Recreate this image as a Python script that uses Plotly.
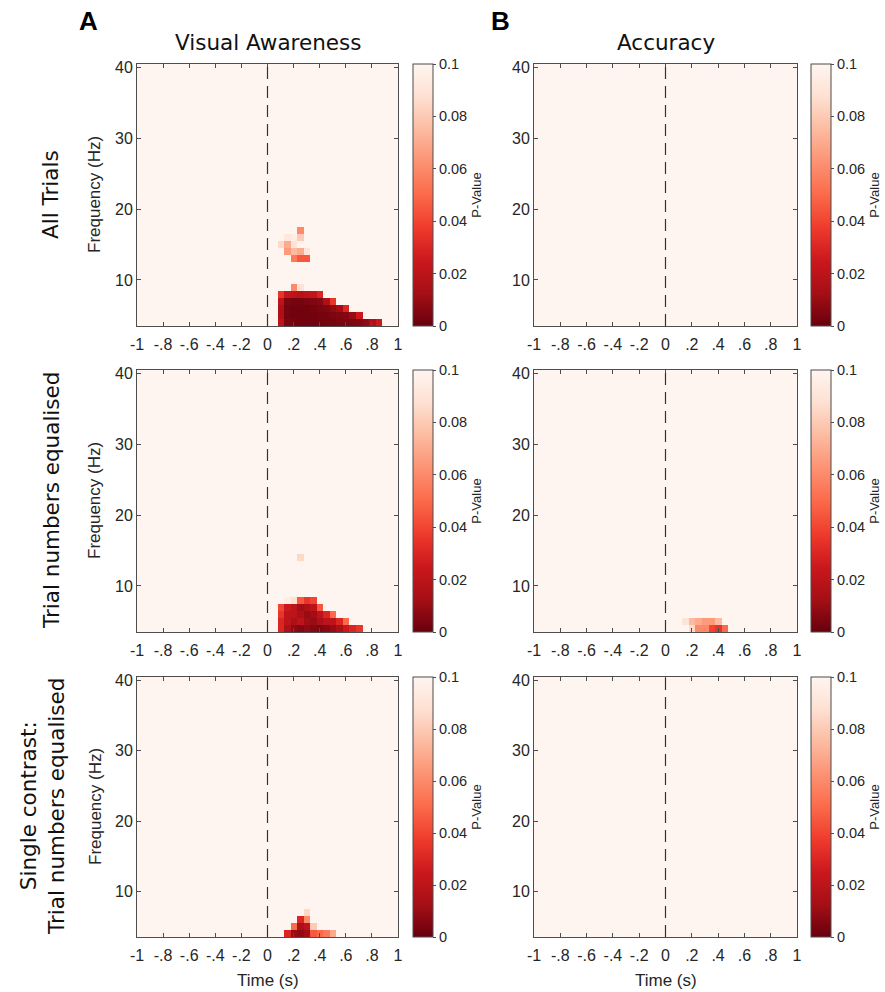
import plotly.graph_objects as go

# ---------------- data ----------------
times = [round(-1 + 0.05 * i, 2) for i in range(41)]   # time bin centres (s)
freqs = list(range(4, 41))                             # frequency bins (Hz)
BG = 0.1                                               # non-significant p (clipped)

x_tickvals = [-1, -0.8, -0.6, -0.4, -0.2, 0, 0.2, 0.4, 0.6, 0.8, 1]
x_ticktext = ["-1", "-.8", "-.6", "-.4", "-.2", "0", ".2", ".4", ".6", ".8", "1"]
y_tickvals = [10, 20, 30, 40]
cb_tickvals = [0, 0.02, 0.04, 0.06, 0.08, 0.1]
cb_ticktext = ["0", "0.02", "0.04", "0.06", "0.08", "0.1"]

col_titles = ["Visual Awareness", "Accuracy"]
row_titles = ["All Trials", "Trial numbers equalised",
              "Single contrast:<br>Trial numbers equalised"]

# significant cells: (frequency, first time bin, p-values along time)
va_all = [
    (4, 0.10, [0.02, 0.004, 0.003, 0.002, 0.002, 0.002, 0.002, 0.003, 0.003, 0.004, 0.004, 0.005, 0.006, 0.008, 0.015, 0.025]),
    (5, 0.10, [0.015, 0.003, 0.002, 0.002, 0.002, 0.002, 0.003, 0.003, 0.004, 0.005, 0.006, 0.01, 0.025]),
    (6, 0.10, [0.015, 0.003, 0.002, 0.002, 0.002, 0.003, 0.004, 0.005, 0.008, 0.012, 0.03]),
    (7, 0.10, [0.02, 0.004, 0.003, 0.003, 0.004, 0.005, 0.006, 0.015, 0.035]),
    (8, 0.10, [0.035, 0.022, 0.02, 0.018, 0.02, 0.022, 0.03]),
    (9, 0.20, [0.06, 0.09]),
    (13, 0.20, [0.055, 0.045, 0.045]),
    (14, 0.15, [0.065, 0.075, 0.07, 0.09]),
    (15, 0.10, [0.085, 0.07, 0.09]),
    (16, 0.15, [0.092, 0.095, 0.08]),
    (17, 0.25, [0.06]),
]
va_eq = [
    (4, 0.10, [0.03, 0.015, 0.008, 0.006, 0.008, 0.006, 0.005, 0.007, 0.01, 0.015, 0.025, 0.03, 0.035]),
    (5, 0.10, [0.03, 0.02, 0.015, 0.02, 0.012, 0.01, 0.015, 0.02, 0.02, 0.03, 0.05]),
    (6, 0.10, [0.035, 0.02, 0.02, 0.015, 0.01, 0.012, 0.02, 0.03, 0.05]),
    (7, 0.10, [0.04, 0.025, 0.02, 0.012, 0.015, 0.02, 0.045]),
    (8, 0.15, [0.095, 0.088, 0.045, 0.035, 0.04]),
    (14, 0.25, [0.085]),
]
va_single = [
    (4, 0.15, [0.03, 0.01, 0.008, 0.012, 0.045, 0.05, 0.055, 0.07]),
    (5, 0.20, [0.05, 0.015, 0.02, 0.08]),
    (6, 0.25, [0.03, 0.06]),
    (7, 0.30, [0.085]),
]
acc_all = []
acc_eq = [
    (4, 0.20, [0.085, 0.06, 0.06, 0.04, 0.035, 0.05]),
    (5, 0.15, [0.09, 0.075, 0.07, 0.065, 0.065, 0.075]),
]
acc_single = []

panels = [[va_all, acc_all], [va_eq, acc_eq], [va_single, acc_single]]


def build(rows):
    z = [[BG for _ in times] for _ in freqs]
    for f, t0, vals in rows:
        fi = freqs.index(f)
        ti = times.index(t0)
        for k, v in enumerate(vals):
            z[fi][ti + k] = v
    return z


# ---------------- layout geometry (pixels) ----------------
W, H = 885, 992
col_x = [(137, 398), (534, 797)]
row_y = [(64, 326), (370, 632), (677, 937)]
cb_x = [413, 811]

reds = [[0.0, "#67000d"], [0.125, "#a50f15"], [0.25, "#cb181d"], [0.375, "#ef3b2c"],
        [0.5, "#fb6a4a"], [0.625, "#fc9272"], [0.75, "#fcbba1"], [0.875, "#fee0d2"],
        [1.0, "#fff5f0"]]

TICKFONT = dict(family="Liberation Sans, Arial, sans-serif", size=16, color="#262626")
CBFONT = dict(family="Liberation Sans, Arial, sans-serif", size=14.5, color="#262626")
LABFONT = dict(family="Liberation Sans, Arial, sans-serif", size=17, color="#262626")
TITLEFONT = dict(family="DejaVu Sans, Verdana, sans-serif", size=21.5, color="#111111")
AXCOL = "#4d4d4d"

fig = go.Figure()
layout = {}
shapes = []
annotations = []
idx = 0
for r in range(3):
    for c in range(2):
        idx += 1
        xa = "x" if idx == 1 else f"x{idx}"
        ya = "y" if idx == 1 else f"y{idx}"
        x0, x1 = col_x[c]
        y0, y1 = row_y[r]
        fig.add_trace(go.Heatmap(
            x=times, y=freqs, z=build(panels[r][c]),
            xaxis=xa, yaxis=ya,
            zmin=0, zmax=0.1, colorscale=reds, zsmooth=False,
            colorbar=dict(
                x=cb_x[c] / W, xanchor="left", xpad=0, ypad=0,
                y=1 - (y0 + y1) / 2 / H, yanchor="middle",
                len=(y1 - y0) / H, lenmode="fraction", thickness=20,
                outlinecolor=AXCOL, outlinewidth=1,
                tickvals=cb_tickvals, ticktext=cb_ticktext,
                ticks="outside", ticklen=3, tickcolor=AXCOL,
                tickfont=CBFONT,
                title=dict(text="P-Value", side="right",
                           font=dict(family="Liberation Sans, Arial, sans-serif", size=13, color="#262626")),
            ),
        ))
        layout["xaxis" if idx == 1 else f"xaxis{idx}"] = dict(
            domain=[x0 / W, x1 / W], anchor=ya, range=[-1, 1],
            tickvals=x_tickvals, ticktext=x_ticktext, ticks="inside", ticklen=4,
            tickcolor=AXCOL, showline=True, linecolor=AXCOL, linewidth=1,
            mirror="ticks", showgrid=False, zeroline=False, tickfont=TICKFONT,
            automargin=False, ticklabelstandoff=4,
        )
        layout["yaxis" if idx == 1 else f"yaxis{idx}"] = dict(
            domain=[1 - y1 / H, 1 - y0 / H], anchor=xa, range=[3.5, 40.5],
            tickvals=y_tickvals, ticks="inside", ticklen=4, tickcolor=AXCOL,
            showline=True, linecolor=AXCOL, linewidth=1, mirror="ticks",
            showgrid=False, zeroline=False, tickfont=TICKFONT, automargin=False,
        )
        shapes.append(dict(type="line", xref=xa, yref=f"{ya} domain",
                           x0=0, x1=0, y0=0, y1=1,
                           line=dict(color="#333333", width=1.2, dash="12px,7px")))
        if c == 0:
            annotations.append(dict(
                text="Frequency (Hz)", textangle=-90, showarrow=False,
                xref="paper", yref="paper", x=95 / W, y=1 - (y0 + y1) / 2 / H,
                xanchor="center", yanchor="middle", font=LABFONT))
        if r == 2:
            annotations.append(dict(
                text="Time (s)", showarrow=False, xref="paper", yref="paper",
                x=(x0 + x1) / 2 / W, y=1 - 980 / H,
                xanchor="center", yanchor="middle", font=LABFONT))

# column titles and panel letters
for c, t in enumerate(col_titles):
    annotations.append(dict(text=t, showarrow=False, xref="paper", yref="paper",
                            x=(col_x[c][0] + col_x[c][1]) / 2 / W, y=1 - 42 / H,
                            xanchor="center", yanchor="middle", font=TITLEFONT))
for letter, px in [("A", 88), ("B", 500)]:
    annotations.append(dict(text=f"<b>{letter}</b>", showarrow=False, xref="paper", yref="paper",
                            x=px / W, y=1 - 21 / H, xanchor="center", yanchor="middle",
                            font=dict(family="Liberation Sans, Arial, sans-serif", size=26, color="black")))

# row labels
row_lab_x = [51, 52, 42]
for r, t in enumerate(row_titles):
    annotations.append(dict(text=t, textangle=-90, showarrow=False, xref="paper", yref="paper",
                            x=row_lab_x[r] / W, y=1 - (row_y[r][0] + row_y[r][1]) / 2 / H,
                            xanchor="center", yanchor="middle", font=TITLEFONT))

fig.update_layout(
    width=W, height=H, margin=dict(l=0, r=0, t=0, b=0, autoexpand=False),
    paper_bgcolor="white", plot_bgcolor="white",
    shapes=shapes, annotations=annotations, **layout,
)

fig.write_html("out.html", config={"displayModeBar": False},
               post_script="document.body.style.margin='0px';")
